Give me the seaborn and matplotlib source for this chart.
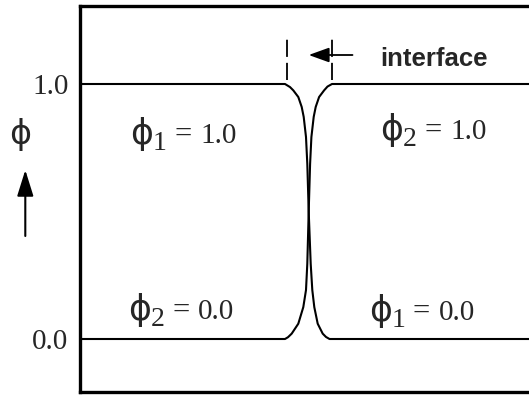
import matplotlib
matplotlib.use("Agg")
import matplotlib.pyplot as plt
import pandas as pd
import seaborn as sns

# Order-parameter profiles across a diffuse interface (position in arbitrary units)
phi1_pos = [0, 205.5, 210.5, 213.8, 218.8, 222.2, 224.2, 226.5, 227.8, 229.2,
            231.2, 232.8, 234.8, 238.2, 243.2, 246.5, 250.0, 455.5]
phi1_val = [1.0, 1.0, 0.988, 0.975, 0.949, 0.910, 0.871, 0.792, 0.687, 0.5,
            0.295, 0.192, 0.125, 0.060, 0.021, 0.008, 0.0, 0.0]
phi2_pos = [0, 205.5, 208.5, 212.2, 218.8, 223.8, 226.5, 227.8, 229.2, 230.6,
            231.9, 234.2, 236.2, 239.6, 244.6, 248.0, 252.5, 455.5]
phi2_val = [0.0, 0.0, 0.007, 0.021, 0.060, 0.125, 0.192, 0.295, 0.5, 0.687,
            0.792, 0.871, 0.910, 0.949, 0.975, 0.990, 1.0, 1.0]

# Interface boundaries and value ticks
interface_left = 207.0
interface_right = 252.5
tick_values = [0.0, 1.0]
tick_labels = ["0.0", "1.0"]

# Region labels: subscript, value
region_subs = ["1", "2", "2", "1"]
region_vals = ["1.0", "1.0", "0.0", "0.0"]

sns.set_style("white")
plt.rcParams["font.family"] = ["Liberation Serif", "DejaVu Serif"]

W, H = 529, 396
fig = plt.figure(figsize=(W / 100, H / 100), dpi=100)
ax = fig.add_axes([79.5 / W, 4.0 / H, (535 - 79.5) / W, (390.0 - 4.0) / H])

df = pd.concat([
    pd.DataFrame({"pos": phi1_pos, "phi": phi1_val, "field": "phi1"}),
    pd.DataFrame({"pos": phi2_pos, "phi": phi2_val, "field": "phi2"}),
])
sns.lineplot(data=df, x="pos", y="phi", units="field", estimator=None,
             color="black", lw=1.5, sort=False, ax=ax,
             solid_joinstyle="round", solid_capstyle="round")

ax.set_xlim(0, 455.5)
# 1.0 sits 82 px and 0.0 sits 337 px below the top edge (255 px per unit)
ax.set_ylim(-(390 - 337) / 255, (337 - 4) / 255)

ax.set_xlabel("")
ax.set_ylabel("")
ax.set_xticks([])
ax.set_yticks(tick_values)
ax.set_yticklabels(tick_labels, fontsize=21, family="Liberation Serif")
ax.tick_params(axis="y", length=0, pad=8)

for side in ["left", "top", "bottom"]:
    ax.spines[side].set_linewidth(2.4)
    ax.spines[side].set_color("black")
ax.spines["right"].set_visible(False)

# Dashed markers bounding the interface
for xv in (interface_left, interface_right):
    ax.plot([xv, xv], [(337 - 78) / 255, (337 - 32) / 255], color="black",
            lw=1.3, linestyle=(0, (9.5, 3.3)))

# Arrow pointing into the interface
ax.annotate("", xy=(229.2, (337 - 53) / 255), xytext=(273.0, (337 - 53) / 255),
            arrowprops=dict(arrowstyle="-|>,head_length=1.25,head_width=0.45",
                            color="black", lw=1.3, shrinkA=0, shrinkB=0))
fig.text(380 / W, 1 - 66 / H, "interface", fontsize=18.5, fontweight="bold",
         family="Liberation Sans", ha="left", va="baseline")


def px_text(x, y, s, **kw):
    """Place text at a pixel position measured from the top-left corner."""
    return fig.text(x / W, 1 - y / H, s, **kw)


# Region labels built from phi symbol, subscript and value
label_anchor = [(130, 143), (380, 139), (128, 319), (369, 320)]
for (x, y), sub, val in zip(label_anchor, region_subs, region_vals):
    px_text(x, y + 1, "\u03d5", fontsize=25, family="DejaVu Sans",
            ha="left", va="baseline")
    px_text(x + 23, y + 7, sub, fontsize=20, ha="left", va="baseline")
    px_text(x + 44, y, "=", fontsize=22, ha="left", va="baseline")
    px_text(x + 70, y, val, fontsize=21, ha="left", va="baseline")

# Axis label with upward arrow
px_text(20, 135, "\u03d5", fontsize=24, family="DejaVu Sans",
        ha="center", va="center")
ax.annotate("", xy=(25.3, H - 170), xycoords="figure pixels",
            xytext=(25.3, H - 236), textcoords="figure pixels",
            arrowprops=dict(arrowstyle="-|>,head_length=1.6,head_width=0.5",
                            color="black", lw=1.5, shrinkA=0, shrinkB=0))

fig.savefig("out.png", dpi=100)
